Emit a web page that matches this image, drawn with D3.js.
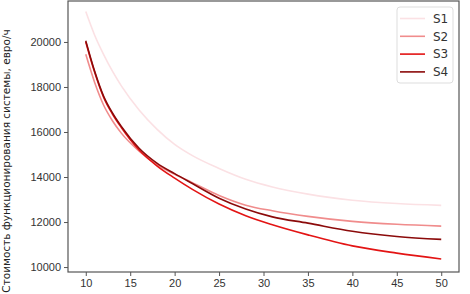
<!DOCTYPE html>
<html lang="ru">
<head>
<meta charset="UTF-8">
<title>Стоимость функционирования системы</title>
<script src="https://d3js.org/d3.v7.min.js"></script>
<style>
  html, body { margin: 0; background: #fff; }
  svg { display: block; font-family: 'DejaVu Sans', sans-serif; }
  .tick text { fill: #333; font-size: 11px; }
  .tick line { stroke: #555; }
  .domain { display: none; }
</style>
</head>
<body>
<svg id="chart" width="470" height="294"></svg>
<script>
// x values (number of units) and cost per series
const xs = [10, 11, 12, 13, 14, 16, 18, 20, 22, 25, 28, 31, 35, 40, 45, 50];
const s1 = [21350, 20300, 19450, 18700, 18050, 16980, 16130, 15450, 14950, 14380, 13900, 13560, 13240, 12970, 12820, 12740];
const s2 = [19450, 18200, 17200, 16500, 15950, 15150, 14550, 14120, 13750, 13180, 12750, 12500, 12250, 12030, 11900, 11820];
const s3 = [20000, 18650, 17550, 16800, 16200, 15200, 14500, 13950, 13450, 12800, 12280, 11880, 11430, 10940, 10620, 10360];
const s4 = [20050, 18700, 17600, 16850, 16250, 15280, 14620, 14150, 13710, 13060, 12580, 12230, 11950, 11590, 11360, 11230];
const seriesNames = ["S1", "S2", "S3", "S4"];
const seriesColors = ["#fbe1e4", "#f08c8c", "#e31414", "#8b0a0a"];
const xTicks = [10, 15, 20, 25, 30, 35, 40, 45, 50];
const yTicks = [10000, 12000, 14000, 16000, 18000, 20000];

const allSeries = [s1, s2, s3, s4];
const W = 470, H = 294;
const margin = { top: 1, right: 11, bottom: 22, left: 68 };

const svg = d3.select("#chart");

const x = d3.scaleLinear().domain([8, 52]).range([margin.left, W - margin.right]);
const y = d3.scaleLinear().domain([9780, 21820]).range([H - margin.bottom, margin.top]);

// axes
svg.append("g")
    .attr("transform", `translate(0,${H - margin.bottom})`)
    .call(d3.axisBottom(x).tickValues(xTicks).tickSize(4).tickPadding(3).tickFormat(d3.format("d")));

svg.append("g")
    .attr("transform", `translate(${margin.left},0)`)
    .call(d3.axisLeft(y).tickValues(yTicks).tickSize(4).tickPadding(3).tickFormat(d3.format("d")));

// lines
const line = d3.line()
    .x((d, i) => x(xs[i]))
    .y(d => y(d))
    .curve(d3.curveMonotoneX);

svg.append("g")
    .selectAll("path")
    .data(allSeries)
    .enter().append("path")
    .attr("d", d => line(d))
    .attr("fill", "none")
    .attr("stroke", (d, i) => seriesColors[i])
    .attr("stroke-width", 1.6);

// frame
svg.append("rect")
    .attr("x", margin.left)
    .attr("y", margin.top)
    .attr("width", W - margin.left - margin.right)
    .attr("height", H - margin.top - margin.bottom)
    .attr("fill", "none")
    .attr("stroke", "#555")
    .attr("stroke-width", 1.2);

// y label
svg.append("text")
    .attr("transform", "translate(10,161) rotate(-90)")
    .attr("text-anchor", "middle")
    .attr("font-size", 10.5)
    .attr("fill", "#222")
    .text("Стоимость функционирования системы, евро/ч");

// legend
const legend = svg.append("g").attr("transform", "translate(397,7)");
legend.append("rect")
    .attr("width", 56)
    .attr("height", 76)
    .attr("rx", 3)
    .attr("fill", "#fff")
    .attr("stroke", "#ddd");

const item = legend.selectAll("g.item")
    .data(seriesNames)
    .enter().append("g")
    .attr("class", "item")
    .attr("transform", (d, i) => `translate(0,${11.5 + i * 17.8})`);

item.append("line")
    .attr("x1", 3).attr("x2", 28)
    .attr("stroke", (d, i) => seriesColors[i])
    .attr("stroke-width", 1.6);

item.append("text")
    .attr("x", 36)
    .attr("dy", "0.35em")
    .attr("font-size", 12)
    .attr("fill", "#333")
    .text(d => d);
</script>
</body>
</html>
